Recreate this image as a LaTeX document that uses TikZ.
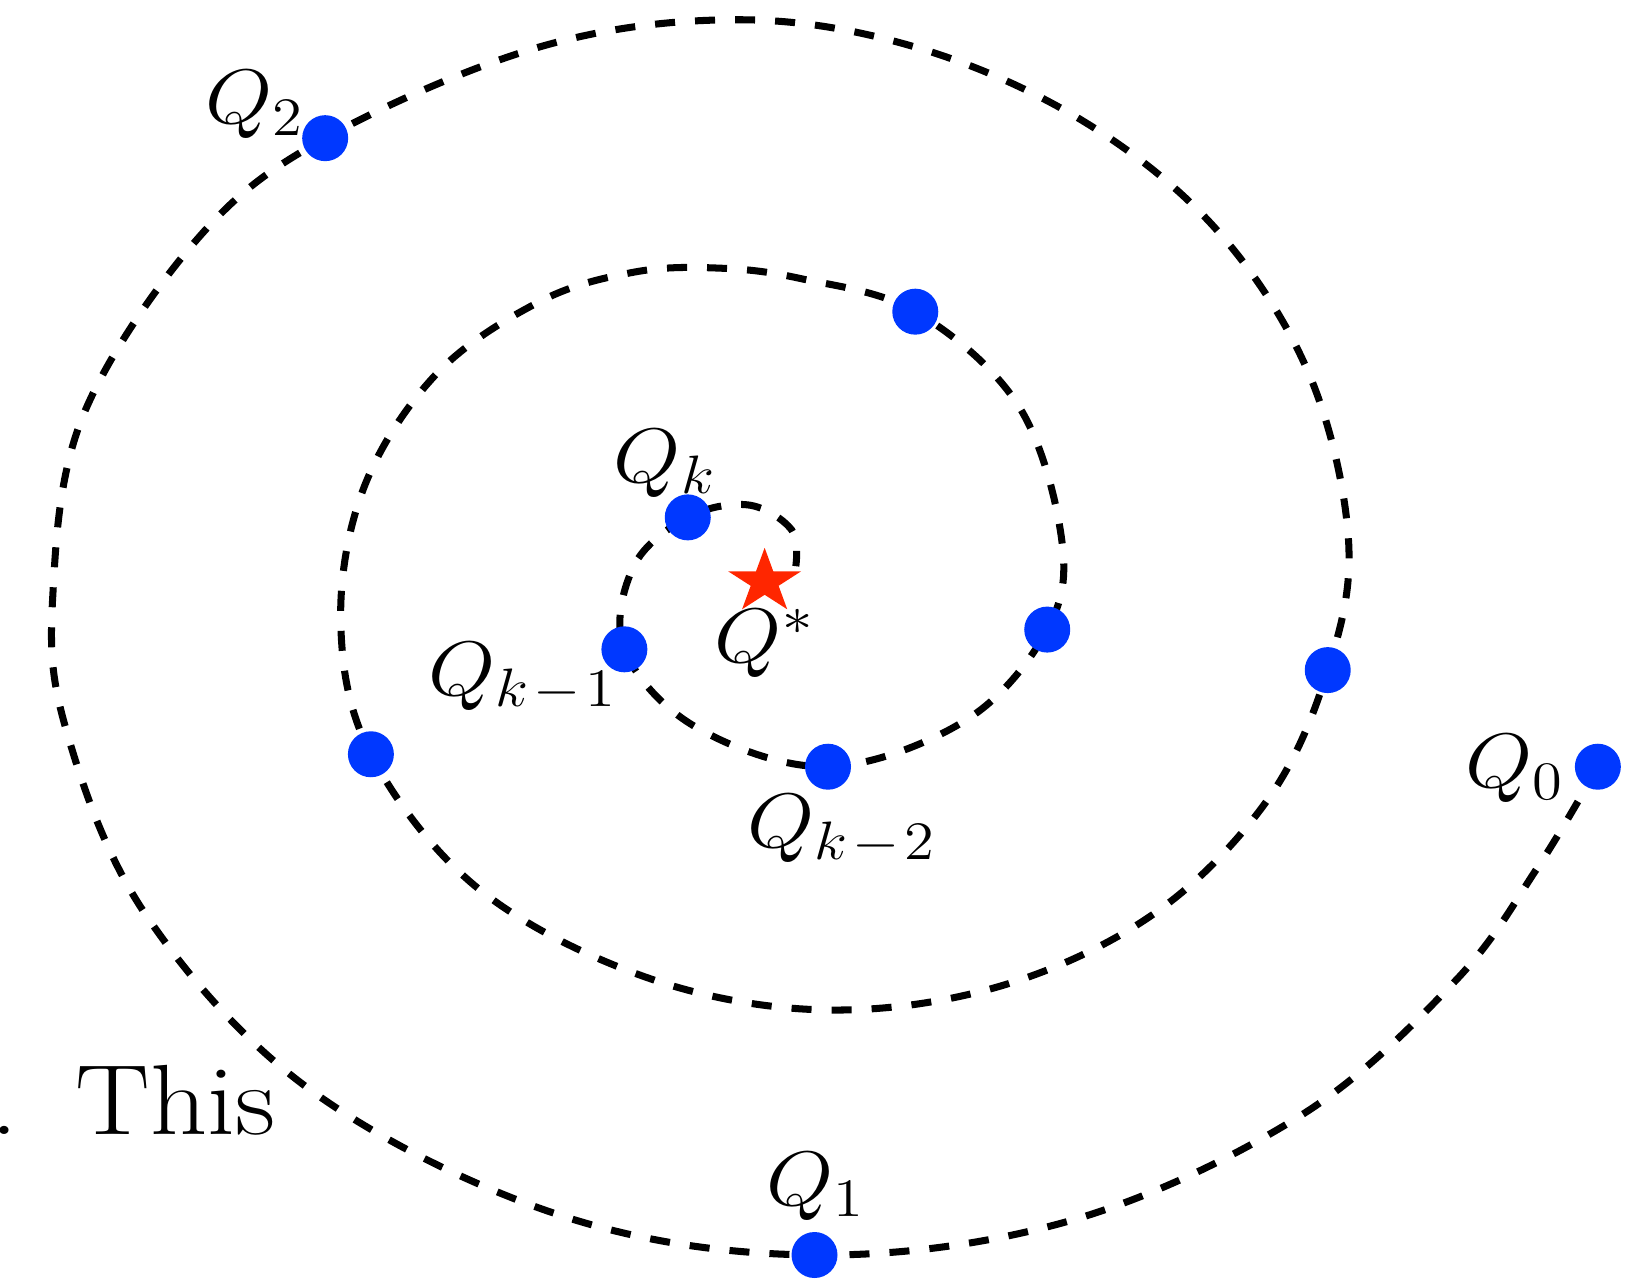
\RequirePackage{fix-cm}
\documentclass[tikz,border=0pt]{standalone}
\usepackage{tikz}
\usetikzlibrary{shapes.geometric}

\definecolor{iterblue}{RGB}{0,56,255}
\definecolor{optred}{RGB}{255,38,0}

\begin{document}
\begin{tikzpicture}[
    x=0.01039cm, y=-0.01039cm,
    iter/.style={circle, fill=iterblue, inner sep=0pt, minimum size=0.46cm},
    lbl/.style={anchor=base, inner sep=0pt, xscale=1.12, font=\fontsize{22}{26}\selectfont},
    spiral/.style={line width=2pt, dash pattern=on 5.7pt off 5.7pt},
    optstar/.style={star, star points=5, star point ratio=2.618, fill=optred,
      inner sep=0pt, minimum size=0.68cm, xscale=1.13}
  ]
  \useasboundingbox (0,0) rectangle (1568,1231);
  % iterates
  \coordinate (p0) at (1538,738);
  \coordinate (p1) at (784,1208);
  \coordinate (p2) at (313,133);
  \coordinate (p3) at (1278,645);
  \coordinate (p4) at (357,726);
  \coordinate (p5) at (881,300);
  \coordinate (p6) at (1008,606);
  \coordinate (pk2) at (797,738);
  \coordinate (pk1) at (601,625);
  \coordinate (pk) at (662,498);
  % the path of the iterates
  \draw[spiral] plot[smooth, tension=0.6] coordinates {
    (p0) (1480,835) (1400,945) (1250,1075) (1030,1175)
    (p1) (540,1170) (300,1050) (140,880) (63,700) (51,570) (80,400) (190,230)
    (p2) (520,45) (710,19) (880,45) (1040,115) (1170,220) (1260,360) (1298,520)
    (p3) (1220,770) (1110,880) (960,950) (790,972) (620,940) (460,855)
    (p4) (328,600) (350,470) (420,360) (520,290) (610,262) (690,258) (770,268)
    (p5) (980,390) (1022,520)
    (p6) (930,693)
    (pk2) (670,700)
    (pk1) (610,545)
    (pk) (720,486) (762,510) (766,545)};
  \node[iter] (q0) at (p0) {};
  \node[iter] (q1) at (p1) {};
  \node[iter] (q2) at (p2) {};
  \node[iter] (q3) at (p3) {};
  \node[iter] (q4) at (p4) {};
  \node[iter] (q5) at (p5) {};
  \node[iter] (q6) at (p6) {};
  \node[iter] (qk2) at (pk2) {};
  \node[iter] (qk1) at (pk1) {};
  \node[iter] (qk) at (pk) {};
  \node[optstar] (qs) at (736,560) {};
  % labels
  \node[lbl] (l0) at (1458,758) {$Q_0$};
  \node[lbl] (l1) at (785,1160) {$Q_1$};
  \node[lbl] (l2) at (245,119) {$Q_2$};
  \node[lbl] (lk) at (640,464) {$Q_k$};
  \node[lbl] (lk1) at (503,669) {$Q_{k\mkern1.5mu-\mkern1.5mu1}$};
  \node[lbl] (lk2) at (810,816) {$Q_{k\mkern1.5mu-\mkern1.5mu2}$};
  \node[lbl] (ls) at (736,638) {$Q^*$};
  \node[anchor=base west, inner sep=0pt, xscale=1.12, font=\fontsize{28.4}{34}\selectfont]
    (txt) at (-9.5,1092) {.\hspace{14.4pt}This};
\end{tikzpicture}
\end{document}
